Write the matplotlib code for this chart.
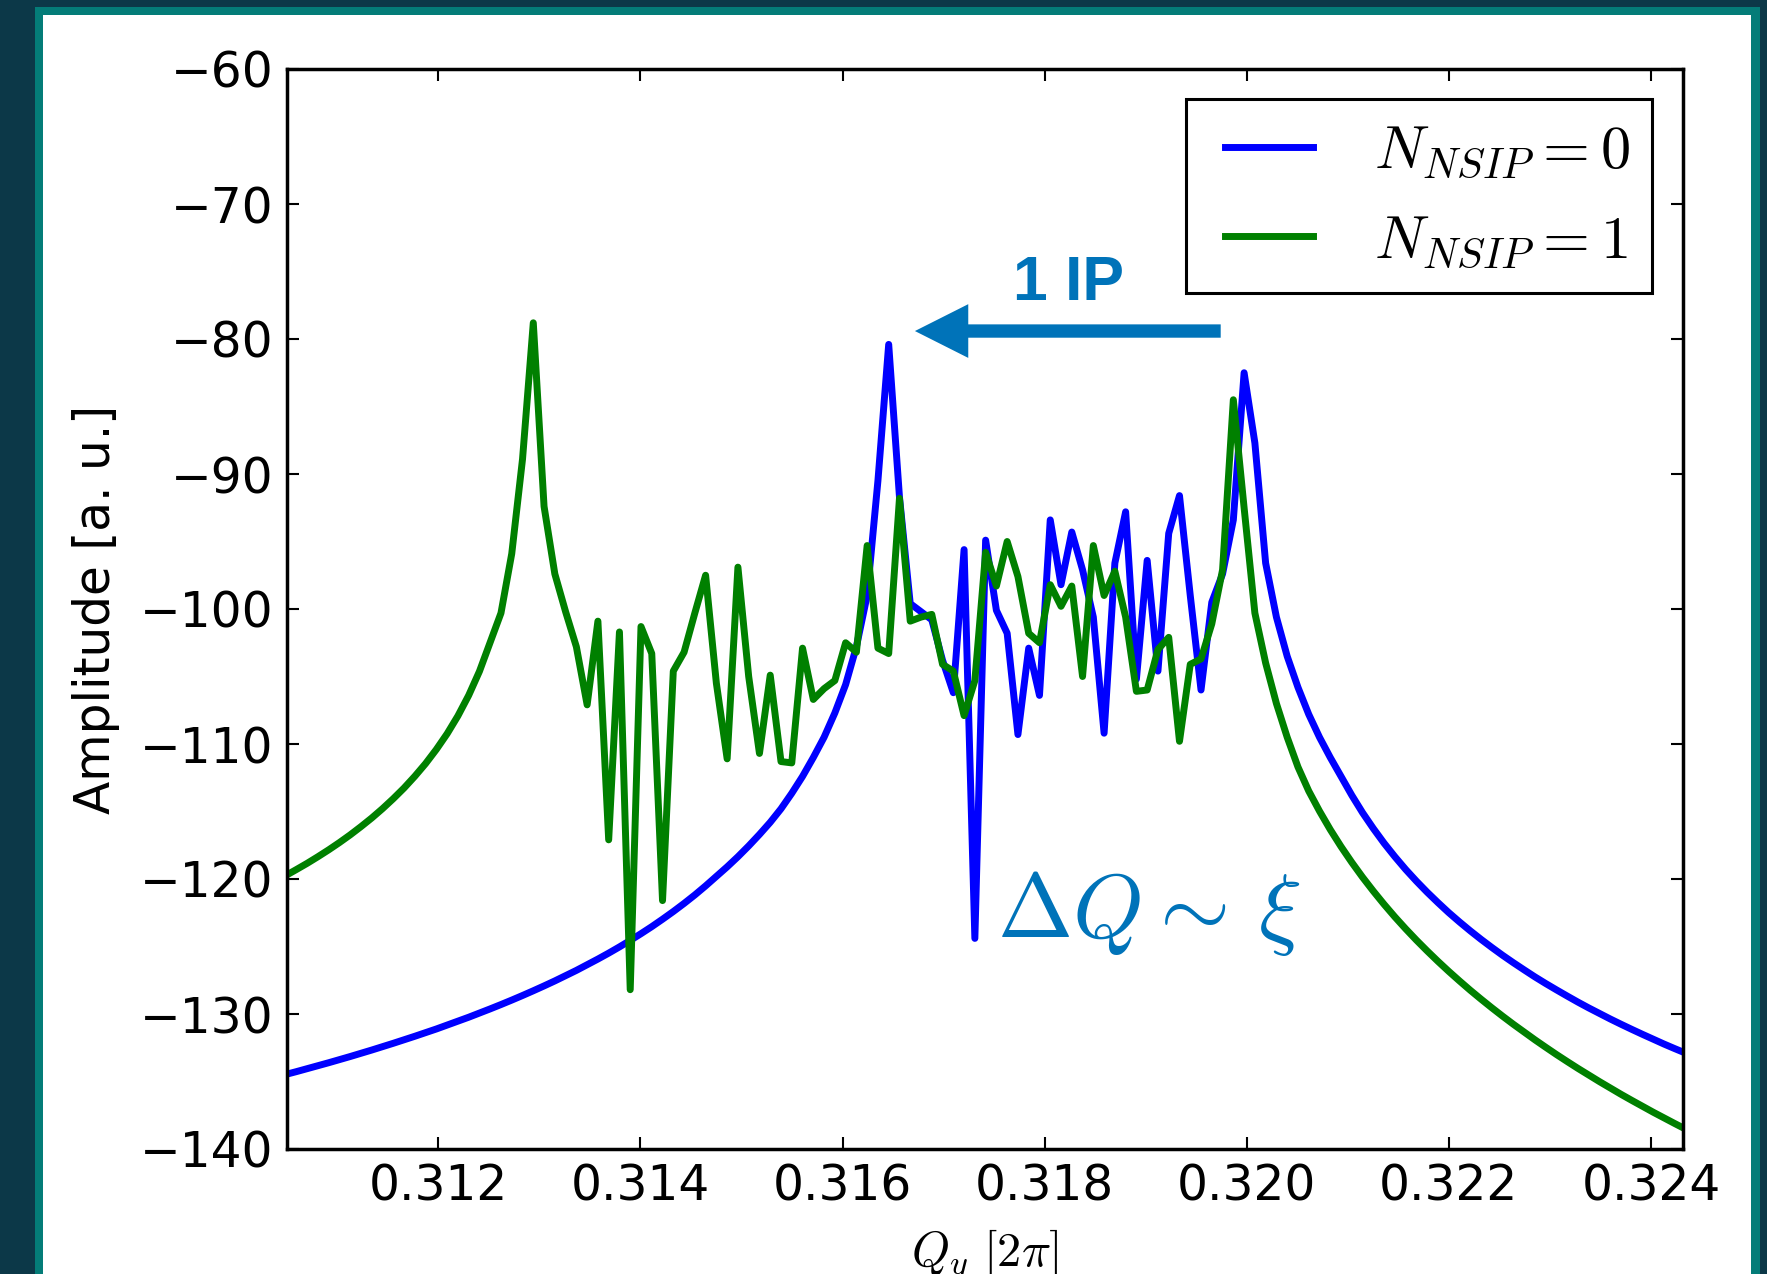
import numpy as np
import matplotlib
matplotlib.use('Agg')
import matplotlib.pyplot as plt
from matplotlib.patches import Rectangle
from matplotlib.lines import Line2D
from matplotlib.legend_handler import HandlerLine2D

# ---------------- data ----------------
# tune grid (uniform FFT bins)
q_first = 0.310488
q_step = 0.00010658

# amplitude for N_NSIP = 0 (blue)
amp_nsip0 = [
    -134.48, -134.27, -134.05, -133.83, -133.61, -133.38, -133.15, -132.91, -132.67, -132.42,
    -132.17, -131.91, -131.65, -131.38, -131.11, -130.82, -130.53, -130.24, -129.93, -129.62,
    -129.30, -128.97, -128.63, -128.28, -127.92, -127.55, -127.16, -126.77, -126.35, -125.93,
    -125.49, -125.03, -124.55, -124.05, -123.53, -122.98, -122.41, -121.81, -121.18, -120.51,
    -119.80, -119.10, -118.35, -117.55, -116.70, -115.80, -114.80, -113.65, -112.40, -111.00,
    -109.50, -107.70, -105.60, -102.80, -99.0, -90.5, -80.4, -91.7, -99.6, -100.2,
    -100.8, -103.8, -106.2, -95.6, -124.4, -94.9, -100.1, -101.8, -109.3, -102.9,
    -106.4, -93.4, -98.2, -94.3, -97.1, -100.6, -109.2, -96.6, -92.8, -105.2,
    -96.4, -104.6, -94.4, -91.6, -99.0, -106.0, -99.5, -97.4, -93.4, -82.5,
    -87.7, -96.6, -100.6, -103.5, -105.8, -107.8, -109.5, -111.0, -112.4, -113.80,
    -115.09, -116.26, -117.35, -118.35, -119.29, -120.16, -120.98, -121.75, -122.49, -123.18,
    -123.84, -124.47, -125.07, -125.65, -126.20, -126.73, -127.25, -127.74, -128.21, -128.67,
    -129.12, -129.55, -129.96, -130.37, -130.76, -131.14, -131.51, -131.87, -132.23, -132.57,
    -132.90,
]

# amplitude for N_NSIP = 1 (green)
amp_nsip1 = [
    -119.75, -119.30, -118.84, -118.35, -117.84, -117.30, -116.73, -116.12, -115.48, -114.79,
    -114.05, -113.26, -112.39, -111.45, -110.40, -109.24, -107.92, -106.40, -104.62, -102.45,
    -100.3, -95.9, -88.9, -78.8, -92.4, -97.4, -100.2, -102.8, -107.1, -100.9,
    -117.1, -101.7, -128.2, -101.3, -103.3, -121.6, -104.6, -103.2, -100.3, -97.5,
    -105.5, -111.1, -96.9, -105.0, -110.7, -104.9, -111.3, -111.4, -102.9, -106.7,
    -105.9, -105.3, -102.5, -103.2, -95.3, -102.9, -103.3, -91.8, -100.9, -100.6,
    -100.4, -104.1, -104.6, -107.9, -105.3, -95.8, -98.3, -95.0, -97.6, -101.8,
    -102.5, -98.2, -99.8, -98.3, -105.0, -95.3, -99.0, -97.2, -100.6, -106.1,
    -106.0, -103.0, -102.1, -109.8, -104.1, -103.7, -101.1, -97.1, -84.5, -92.5,
    -100.3, -104.0, -107.0, -109.5, -111.7, -113.48, -114.97, -116.34, -117.60, -118.77,
    -119.87, -120.90, -121.88, -122.81, -123.69, -124.53, -125.33, -126.10, -126.84, -127.55,
    -128.24, -128.90, -129.54, -130.16, -130.76, -131.34, -131.91, -132.46, -133.00, -133.52,
    -134.03, -134.52, -135.01, -135.48, -135.95, -136.40, -136.84, -137.28, -137.70, -138.12,
    -138.53,
]

series_labels = [r'$N_{NSIP}=0$', r'$N_{NSIP}=1$']
x_ticks = [0.312, 0.314, 0.316, 0.318, 0.320, 0.322, 0.324]
x_ticklabels = ['0.312', '0.314', '0.316', '0.318', '0.320', '0.322', '0.324']
y_ticks = [-140, -130, -120, -110, -100, -90, -80, -70, -60]

q_grid = q_first + q_step * np.arange(len(amp_nsip0))

# ---------------- style ----------------
plt.rcParams['mathtext.fontset'] = 'cm'
plt.rcParams['font.family'] = ['DejaVu Sans']

W, H = 1767, 1274
DARK = '#0c3848'
TEAL = '#047c78'
ANNOT = '#0073B9'

fig = plt.figure(figsize=(W / 100, H / 100), dpi=100, facecolor=DARK)
fig.add_artist(Rectangle((35 / W, 0), (1760 - 35) / W, (H - 7) / H,
                         transform=fig.transFigure, facecolor=TEAL,
                         edgecolor='none', zorder=-10))
fig.add_artist(Rectangle((43 / W, 0), (1751 - 43) / W, (H - 15) / H,
                         transform=fig.transFigure, facecolor='white',
                         edgecolor='none', zorder=-9))

ax = fig.add_axes([287.4 / W, 1 - 1149 / H, (1682.6 - 287.4) / W, (1149 - 69) / H])

ax.plot(q_grid, amp_nsip0, color=(0, 0, 1), lw=5.0, label=series_labels[0])
ax.plot(q_grid, amp_nsip1, color=(0, 0.5, 0), lw=5.0, label=series_labels[1])

ax.set_xlim(0.310506, 0.324313)
ax.set_ylim(-140, -60)
ax.set_xticks(x_ticks)
ax.set_xticklabels(x_ticklabels)
ax.set_yticks(y_ticks)

ax.tick_params(direction='in', length=8.5, width=1.5, top=True, right=True,
               labelsize=35, pad=10, colors='black')
for sp in ax.spines.values():
    sp.set_linewidth(2.5)

ax.set_ylabel('Amplitude [a. u.]', fontsize=35)
ax.yaxis.set_label_coords(-0.12, 0.5)
ax.set_xlabel(r'$Q_y\ [2\pi]$', fontsize=35)
ax.xaxis.set_label_coords(0.5, -0.073)

leg = ax.legend(loc='upper right', fontsize=43.5, frameon=True, fancybox=False,
                framealpha=1, edgecolor='black', borderpad=0.38,
                handlelength=1.72, handletextpad=1.0, labelspacing=0.5,
                borderaxespad=0.5,
                handler_map={Line2D: HandlerLine2D(xpad=0.27)})
leg.get_frame().set_linewidth(2.2)

# annotations
ax.annotate('', xy=(0.316716, -79.41), xytext=(0.319742, -79.41),
            arrowprops=dict(arrowstyle='simple,head_length=38.4,head_width=38.7,tail_width=9.6',
                            mutation_scale=1, color=ANNOT, shrinkA=0, shrinkB=0, lw=0))
ax.text(0.318240, -77.11, '1 IP', fontsize=45, fontweight='bold', color=ANNOT,
        ha='center', va='baseline', family=['Liberation Sans', 'DejaVu Sans'])
ax.text(0.317525, -124.32, r'$\Delta Q\sim\,\xi$', fontsize=65, color=ANNOT,
        ha='left', va='baseline')

fig.savefig('out.png', dpi=100, facecolor=fig.get_facecolor())
